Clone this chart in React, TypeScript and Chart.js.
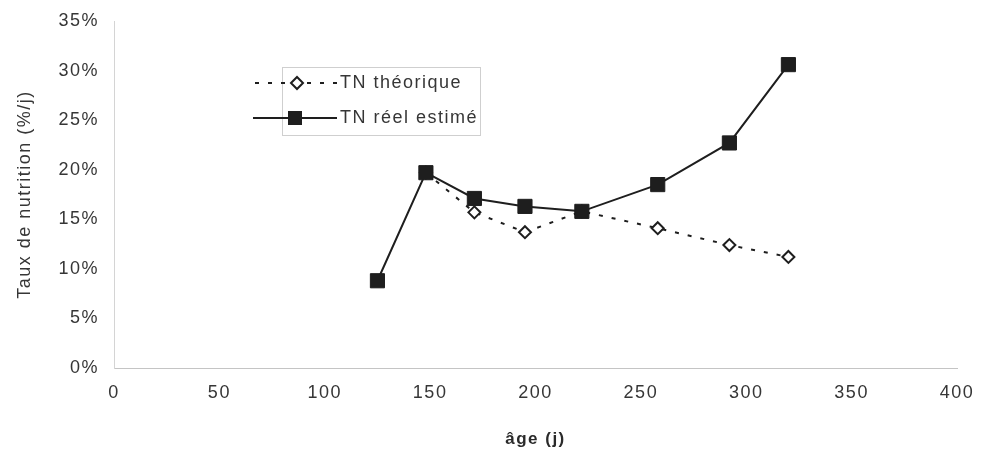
import React, { useEffect, useRef } from 'react';
import { Chart, registerables } from 'chart.js';

Chart.register(...registerables);

// ---- data ----
const ageReel = [125, 148, 171, 195, 222, 258, 292, 320];
const tnReel = [8.8, 19.7, 17.1, 16.3, 15.8, 18.5, 22.7, 30.6];
const ageTheo = [148, 171, 195, 222, 258, 292, 320];
const tnTheo = [19.7, 15.7, 13.7, 15.8, 14.1, 12.4, 11.2];
const labelTheo = 'TN théorique';
const labelReel = 'TN réel estimé';
const xTitle = 'âge (j)';
const yTitle = 'Taux de nutrition (%/j)';
const xMin = 0, xMax = 400, xStep = 50;
const yMin = 0, yMax = 35, yStep = 5;

const FONT = '"Liberation Sans", Arial, sans-serif';
const INK = '#1e1e1e';
const TEXT = '#363636';
const DASH = [4, 9];

const spacingPlugin = {
  id: 'letterSpacing',
  beforeInit(chart: any) { chart.ctx.letterSpacing = '1.5px'; },
  beforeDraw(chart: any) { chart.ctx.letterSpacing = '1.5px'; },
};

const legendPlugin = {
  id: 'customLegend',
  afterDraw(chart: any) {
    const ctx = chart.ctx as CanvasRenderingContext2D;
    ctx.save();
    (ctx as any).letterSpacing = '1.5px';
    // box
    ctx.strokeStyle = '#cfcfcf';
    ctx.lineWidth = 1;
    ctx.strokeRect(282.5, 67.5, 198, 68);
    const y1 = 83, y2 = 118;
    ctx.strokeStyle = INK;
    ctx.lineWidth = 2;
    ctx.setLineDash(DASH);
    ctx.beginPath(); ctx.moveTo(255, y1); ctx.lineTo(337, y1); ctx.stroke();
    ctx.setLineDash([]);
    // diamond marker
    ctx.fillStyle = '#ffffff';
    ctx.beginPath();
    ctx.moveTo(297 - 6, y1); ctx.lineTo(297, y1 - 6); ctx.lineTo(297 + 6, y1); ctx.lineTo(297, y1 + 6); ctx.closePath();
    ctx.fill(); ctx.stroke();
    // real row
    ctx.beginPath(); ctx.moveTo(253, y2); ctx.lineTo(337, y2); ctx.stroke();
    ctx.fillStyle = INK;
    ctx.fillRect(295 - 7, y2 - 7, 14, 14);
    // text
    ctx.fillStyle = TEXT;
    ctx.font = `18px ${FONT}`;
    ctx.textBaseline = 'middle';
    ctx.textAlign = 'left';
    ctx.fillText(labelTheo, 340, y1);
    ctx.fillText(labelReel, 340, y2);
    ctx.restore();
  },
};

export default function App() {
  const ref = useRef<HTMLCanvasElement | null>(null);
  useEffect(() => {
    if (!ref.current) return;
    const chart = new Chart(ref.current, {
      type: 'line',
      data: {
        datasets: [
          {
            label: labelReel,
            data: ageReel.map((x, i) => ({ x, y: tnReel[i] })),
            borderColor: INK,
            backgroundColor: INK,
            borderWidth: 2,
            pointStyle: 'rect',
            pointRadius: 10,
            pointBorderWidth: 1,
            pointBackgroundColor: INK,
            pointBorderColor: INK,
            tension: 0,
          },
          {
            label: labelTheo,
            data: ageTheo.map((x, i) => ({ x, y: tnTheo[i] })),
            borderColor: INK,
            backgroundColor: '#ffffff',
            borderWidth: 2,
            borderDash: DASH,
            pointStyle: 'rectRot',
            pointRadius: 6,
            pointBorderWidth: 2,
            pointBackgroundColor: '#ffffff',
            pointBorderColor: INK,
            tension: 0,
          },
        ],
      },
      options: {
        responsive: false,
        animation: false,
        layout: { padding: { top: 21, right: 24, left: 0, bottom: 0 } },
        plugins: { legend: { display: false }, tooltip: { enabled: false } },
        scales: {
          x: {
            type: 'linear',
            min: xMin,
            max: xMax,
            grid: { display: false, drawTicks: false },
            border: { display: true, color: '#c4c4c4', width: 1 },
            ticks: {
              stepSize: xStep,
              padding: 14,
              color: TEXT,
              font: { family: FONT, size: 18 },
              maxRotation: 0,
            },
            title: {
              display: true,
              text: xTitle,
              color: '#2a2a2a',
              font: { family: FONT, size: 17, weight: 'bold' },
              padding: { top: 0, bottom: 0 },
            },
            afterFit(scale: any) {
              scale.height = 82;
              scale.paddingLeft = 0;
              scale.paddingRight = 0;
            },
          },
          y: {
            type: 'linear',
            min: yMin,
            max: yMax,
            grid: { display: false, drawTicks: false },
            border: { display: true, color: '#d4d4d4', width: 1 },
            ticks: {
              stepSize: yStep,
              padding: 15,
              color: TEXT,
              font: { family: FONT, size: 18 },
              callback: (v: any) => `${v}%`,
            },
            title: {
              display: true,
              text: yTitle,
              color: TEXT,
              font: { family: FONT, size: 18 },
              padding: { top: 14, bottom: 0 },
            },
            afterFit(scale: any) {
              scale.width = 114;
              scale.paddingTop = 0;
              scale.paddingBottom = 0;
            },
          },
        },
      },
      plugins: [spacingPlugin, legendPlugin],
    } as any);
    return () => chart.destroy();
  }, []);
  return (
    <div style={{ position: 'absolute', left: 0, top: 0, width: 981, height: 450, background: '#fff' }}>
      <canvas ref={ref} width={981} height={450} style={{ display: 'block' }} />
    </div>
  );
}
